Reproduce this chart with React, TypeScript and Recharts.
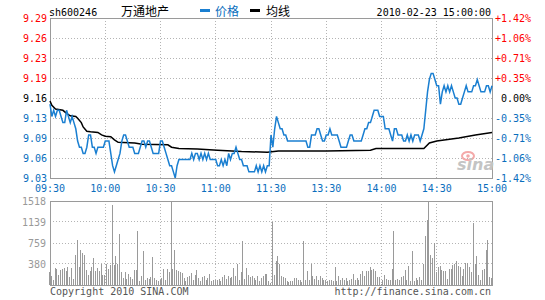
import React from 'react'
import { ComposedChart, Line, Bar, XAxis, YAxis, CartesianGrid, ReferenceArea } from 'recharts'

const MONO = '"DejaVu Sans Mono", monospace'
const CJK = '"Noto Sans CJK SC", sans-serif'
const BLUE = '#0a6ebd'
const LINE_BLUE = '#1a7fd1'
const RED = '#ff0000'
const GRID = '#b4b4b4'
const BORDER = '#9a9a9a'

// minutes since 09:30 (lunch break removed)
const timeTicks = [0, 30, 60, 90, 120, 150, 180, 210, 240]
const timeLabels = ['09:30', '10:00', '10:30', '11:00', '11:30', '13:30', '14:00', '14:30', '15:00']

const priceTicks = [9.03, 9.0625, 9.095, 9.1275, 9.16, 9.1925, 9.225, 9.2575, 9.29]
const priceLabels = ['9.03', '9.06', '9.09', '9.13', '9.16', '9.19', '9.23', '9.26', '9.29']
const pctLabels = ['-1.42%', '-1.06%', '-0.71%', '-0.35%', '0.00%', '+0.35%', '+0.71%', '+1.06%', '+1.42%']

const volTicks = [380, 759, 1139, 1518]

// price, one per minute
const p0930 = [9.15, 9.13, 9.14, 9.13, 9.14, 9.14, 9.13, 9.12, 9.12, 9.14, 9.13, 9.12, 9.13, 9.12, 9.11, 9.09, 9.08, 9.08, 9.07, 9.07, 9.08, 9.10, 9.10, 9.08, 9.08, 9.07, 9.08, 9.08, 9.08, 9.08]
const p1000 = [9.09, 9.09, 9.09, 9.07, 9.05, 9.04, 9.05, 9.06, 9.07, 9.09, 9.10, 9.10, 9.09, 9.08, 9.08, 9.08, 9.07, 9.07, 9.07, 9.08, 9.09, 9.09, 9.08, 9.09, 9.09, 9.08, 9.07, 9.07, 9.07, 9.07]
const p1030 = [9.09, 9.09, 9.08, 9.07, 9.06, 9.05, 9.05, 9.04, 9.03, 9.05, 9.06, 9.06, 9.06, 9.06, 9.06, 9.06, 9.06, 9.07, 9.06, 9.07, 9.07, 9.06, 9.07, 9.06, 9.07, 9.06, 9.07, 9.06, 9.06, 9.06]
const p1100 = [9.06, 9.05, 9.05, 9.06, 9.05, 9.06, 9.05, 9.07, 9.06, 9.07, 9.07, 9.08, 9.07, 9.06, 9.06, 9.05, 9.05, 9.05, 9.04, 9.04, 9.04, 9.04, 9.05, 9.04, 9.05, 9.04, 9.05, 9.04, 9.05, 9.05]
const p1300 = [9.10, 9.08, 9.11, 9.13, 9.12, 9.11, 9.11, 9.10, 9.10, 9.09, 9.09, 9.09, 9.09, 9.09, 9.09, 9.09, 9.09, 9.09, 9.09, 9.09, 9.08, 9.08, 9.10, 9.10, 9.10, 9.11, 9.11, 9.10, 9.09, 9.09]
const p1330 = [9.10, 9.10, 9.11, 9.10, 9.10, 9.10, 9.10, 9.09, 9.08, 9.08, 9.08, 9.08, 9.09, 9.10, 9.10, 9.09, 9.09, 9.09, 9.09, 9.09, 9.10, 9.11, 9.11, 9.12, 9.12, 9.13, 9.14, 9.14, 9.14, 9.13]
const p1400 = [9.13, 9.13, 9.11, 9.11, 9.11, 9.10, 9.09, 9.11, 9.11, 9.10, 9.10, 9.10, 9.09, 9.09, 9.10, 9.09, 9.10, 9.09, 9.10, 9.10, 9.10, 9.09, 9.10, 9.11, 9.14, 9.17, 9.19, 9.20, 9.20, 9.19]
const p1430 = [9.18, 9.18, 9.15, 9.17, 9.18, 9.17, 9.18, 9.17, 9.18, 9.17, 9.16, 9.16, 9.15, 9.15, 9.16, 9.17, 9.18, 9.17, 9.17, 9.17, 9.18, 9.18, 9.19, 9.18, 9.17, 9.17, 9.17, 9.18, 9.18, 9.17, 9.18]

// volume (lots), one per minute
const v0930 = [229, 157, 96, 307, 289, 180, 277, 289, 307, 247, 325, 139, 307, 114, 548, 819, 325, 639, 578, 548, 277, 175, 247, 325, 488, 247, 307, 247, 379, 175]
const v1000 = [175, 385, 289, 367, 1451, 367, 530, 385, 915, 229, 126, 229, 114, 205, 150, 114, 265, 265, 969, 66, 157, 608, 96, 126, 114, 145, 500, 126, 96, 66]
const v1030 = [96, 120, 289, 96, 289, 229, 1518, 289, 638, 265, 247, 229, 217, 126, 66, 139, 157, 217, 96, 187, 277, 126, 66, 139, 157, 96, 126, 205, 66, 90]
const v1100 = [96, 84, 108, 66, 139, 187, 108, 157, 126, 145, 307, 157, 385, 96, 229, 788, 108, 307, 187, 145, 157, 120, 96, 157, 66, 126, 169, 199, 205, 66]
const v1300 = [36, 1131, 187, 427, 518, 385, 157, 139, 126, 78, 48, 78, 66, 126, 126, 96, 84, 48, 788, 96, 247, 96, 385, 157, 114, 157, 96, 169, 126, 96]
const v1330 = [96, 66, 96, 96, 78, 319, 66, 157, 96, 126, 96, 126, 66, 90, 114, 199, 96, 120, 96, 199, 247, 157, 247, 247, 325, 277, 289, 247, 145, 145]
const v1400 = [24, 96, 187, 100, 96, 96, 289, 969, 96, 114, 96, 145, 169, 265, 96, 337, 66, 620, 66, 126, 84, 145, 96, 385, 879, 1168, 1518, 548, 488, 758]
const v1430 = [229, 325, 337, 277, 247, 247, 114, 289, 289, 367, 385, 427, 337, 325, 157, 289, 397, 397, 325, 229, 1120, 385, 530, 187, 96, 277, 289, 626, 819, 150, 120]

// average price line, read at its turning points
const avgTimes = [0, 1, 3, 7, 9, 11, 14, 15, 17, 18, 20, 22, 26, 28, 30, 33, 35, 37, 46, 50, 64, 66, 70, 80, 91, 104, 118, 124, 150, 174, 177, 203, 206, 210, 222, 231, 240]
const avgValues = [9.155, 9.148, 9.142, 9.14, 9.135, 9.131, 9.13, 9.127, 9.12, 9.113, 9.106, 9.105, 9.104, 9.1, 9.098, 9.097, 9.092, 9.088, 9.087, 9.085, 9.084, 9.08, 9.078, 9.077, 9.075, 9.073, 9.072, 9.074, 9.074, 9.075, 9.078, 9.078, 9.087, 9.09, 9.095, 9.1, 9.104]

const prices = [...p0930, ...p1000, ...p1030, ...p1100, ...p1300, ...p1330, ...p1400, ...p1430]
const volumes = [...v0930, ...v1000, ...v1030, ...v1100, ...v1300, ...v1330, ...v1400, ...v1430]
const minuteData = prices.map((p, i) => ({ t: i, p, v: volumes[i] }))
const avgData = avgTimes.map((t, i) => ({ t, a: avgValues[i] }))

const tickIdx = (v: number) => priceTicks.findIndex(x => Math.abs(x - v) < 1e-6)
const tickColor = (i: number) => (i < 4 ? BLUE : i === 4 ? '#000' : RED)

function PriceTick(props: any) {
  const { x, y, payload } = props
  const i = tickIdx(payload.value)
  return <text x={x} y={y} dy={3.5} textAnchor="end" fill={tickColor(i)} fontSize={10} fontFamily={MONO}>{priceLabels[i]}</text>
}

function PctTick(props: any) {
  const { x, y, payload } = props
  const i = tickIdx(payload.value)
  return <text x={x + 36} y={y} dy={3.5} textAnchor="end" fill={tickColor(i)} fontSize={10} fontFamily={MONO}>{pctLabels[i]}</text>
}

const css = `.recharts-cartesian-grid line, .recharts-reference-area-rect, .recharts-bar-rectangle path { shape-rendering: crispEdges; }`

export default function App() {
  return (
    <div style={{ position: 'absolute', left: 0, top: 0, width: 545, height: 300, background: '#fff' }}>
      <style>{css}</style>
      <div style={{ position: 'absolute', left: 0, top: 0 }}>
        <ComposedChart width={545} height={195} data={minuteData} margin={{ top: 18, right: 0, bottom: 0, left: 0 }}>
          <CartesianGrid yAxisId="p" stroke={GRID} strokeDasharray="1 2" />
          <XAxis dataKey="t" type="number" domain={[0, 240]} ticks={timeTicks} interval={0} height={17}
            tickFormatter={(v: number) => timeLabels[timeTicks.indexOf(v)]}
            tick={{ fill: BLUE, fontSize: 10, fontFamily: MONO }} tickLine={false} axisLine={false} tickSize={0} tickMargin={7} />
          <YAxis yAxisId="p" domain={[9.03, 9.29]} ticks={priceTicks} interval={0} allowDataOverflow width={50}
            tick={<PriceTick />} tickLine={false} axisLine={false} tickSize={0} tickMargin={3} />
          <YAxis yAxisId="pct" orientation="right" domain={[9.03, 9.29]} ticks={priceTicks} interval={0} allowDataOverflow width={53}
            tick={<PctTick />} tickLine={false} axisLine={false} tickSize={0} tickMargin={3} />
          <ReferenceArea yAxisId="p" x1={0} x2={240} y1={9.03} y2={9.29} fill="none" stroke={BORDER} strokeWidth={1} />
          <Line yAxisId="p" data={avgData} dataKey="a" type="linear" stroke="#000" strokeWidth={1.5} dot={false} isAnimationActive={false} />
          <Line yAxisId="p" dataKey="p" type="linear" stroke={LINE_BLUE} strokeWidth={1.5} dot={false} isAnimationActive={false} />
        </ComposedChart>
      </div>
      <div style={{ position: 'absolute', left: 0, top: 195 }}>
        <ComposedChart width={545} height={105} data={minuteData} margin={{ top: 6, right: 53, bottom: 15, left: 0 }}>
          <CartesianGrid stroke={GRID} strokeDasharray="1 2" />
          <XAxis dataKey="t" type="number" domain={[0, 240]} ticks={timeTicks} interval={0} hide />
          <YAxis domain={[0, 1518]} ticks={volTicks} interval={0} allowDataOverflow width={50}
            tick={{ fill: '#999', fontSize: 10, fontFamily: MONO }} tickLine={false} axisLine={false} tickSize={0} tickMargin={4} />
          <ReferenceArea x1={0} x2={240} y1={0} y2={1518} fill="none" stroke={BORDER} strokeWidth={1} />
          <Bar dataKey="v" fill="#9a9a9a" barSize={1} isAnimationActive={false} />
        </ComposedChart>
      </div>
      <svg width={545} height={300} style={{ position: 'absolute', left: 0, top: 0, pointerEvents: 'none' }}>
        <text x={49} y={16} fontSize={10} fontFamily={MONO} fill="#000">sh600246</text>
        <text x={121} y={16} fontSize={12} fontFamily={CJK} fill="#000">万通地产</text>
        <rect x={200} y={9} width={10} height={3} fill={LINE_BLUE} />
        <text x={215} y={16} fontSize={12} fontFamily={CJK} fill={BLUE}>价格</text>
        <rect x={250} y={9} width={10} height={3} fill="#000" />
        <text x={266} y={16} fontSize={12} fontFamily={CJK} fill="#000">均线</text>
        <text x={491} y={16} textAnchor="end" fontSize={10} fontFamily={MONO} fill="#000">2010-02-23 15:00:00</text>
        <ellipse cx={468} cy={156} rx={6} ry={4} fill="none" stroke="#f4a9a9" strokeWidth={2} />
        <circle cx={468} cy={156} r={1.8} fill="#f4a9a9" />
        <text x={457} y={170} fontSize={16} fontStyle="italic" fontWeight="bold" fontFamily="'DejaVu Sans', sans-serif" fill="#c4c4c4">sina</text>
        <text x={50} y={295} fontSize={10} fontFamily={MONO} fill="#555">Copyright 2010 SINA.COM</text>
        <text x={491} y={295} textAnchor="end" fontSize={10} fontFamily={MONO} fill="#555">http://finance.sina.com.cn</text>
      </svg>
    </div>
  )
}
